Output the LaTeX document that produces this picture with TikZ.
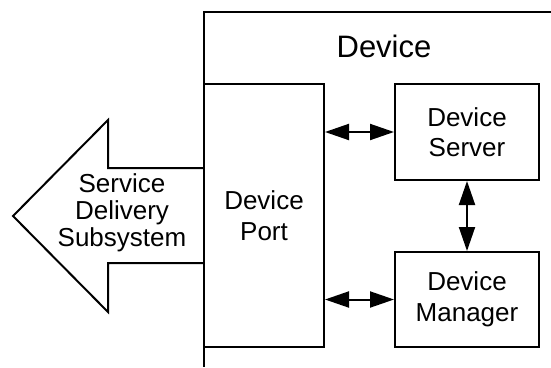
\documentclass[tikz,border=0pt]{standalone}
\usepackage{fontspec}
\setmainfont{Liberation Sans}
\usetikzlibrary{arrows.meta}
\begin{document}
\begin{tikzpicture}[x=1pt,y=-1pt,
  every path/.style={line width=2pt},
  box/.style={draw, line width=2pt, align=center, inner sep=0pt,
    font=\fontsize{26}{30.5}\selectfont},
  link/.style={line width=2pt, {Triangle[length=24pt,width=16pt]}-{Triangle[length=24pt,width=16pt]}}
]
\useasboundingbox (0,0) rectangle (551,367);
% outer device frame
\coordinate (fr) at (551,12);
\coordinate (ftl) at (204,12);
\coordinate (fb) at (204,367);
\draw[line width=2pt] (fr) -- (ftl) -- (fb);
\node[anchor=base, font=\fontsize{31}{36}\selectfont] (devtitle) at (384,57) {Device};
% service delivery arrow
\draw[line width=2pt] (204,168) -- (108,168) -- (108,120) -- (13,216) -- (108,312) -- (108,263) -- (204,263);
\node[align=center, font=\fontsize{26}{27}\selectfont, inner sep=0pt] (sds) at (122,213) {Service\\Delivery\\Subsystem};
% boxes
\node[box, minimum width=120pt, minimum height=263pt] (port) at (264,215.5) {Device\\Port};
\node[box, minimum width=144pt, minimum height=96pt] (server) at (467,132) {Device\\Server};
\node[box, minimum width=144pt, minimum height=95pt] (manager) at (467,299.5) {Device\\Manager};
% connectors
\draw[link] (server.west -| port.east) -- (server.west);
\draw[link] (manager.west -| port.east) -- (manager.west);
\draw[link] (server.south) -- (manager.north);
\end{tikzpicture}
\end{document}
